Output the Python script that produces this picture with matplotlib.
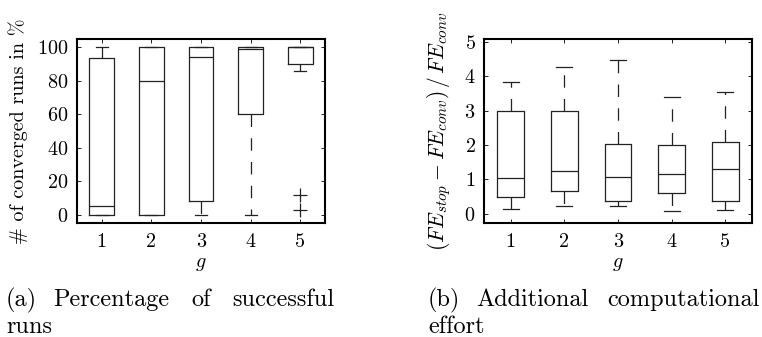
import matplotlib
matplotlib.use("Agg")
import matplotlib.pyplot as plt

plt.rcParams['font.family'] = 'serif'
plt.rcParams['font.serif'] = ['cmr10']
plt.rcParams['mathtext.fontset'] = 'cm'
plt.rcParams['axes.formatter.use_mathtext'] = True

groups = [1, 2, 3, 4, 5]

# Panel (a): percentage of converged runs
a_whislo = [0, 0, 0, 0, 86]
a_q1 = [0, 0, 8, 60, 90]
a_med = [5, 80, 94.5, 99, 100]
a_q3 = [93.5, 100, 100, 100, 100]
a_whishi = [100, 100, 100, 100, 100]
a_fliers = [[], [], [], [], [12, 3]]

# Panel (b): additional computational effort
b_whislo = [0.14, 0.21, 0.21, 0.09, 0.10]
b_q1 = [0.50, 0.65, 0.38, 0.60, 0.38]
b_med = [1.05, 1.23, 1.08, 1.16, 1.29]
b_q3 = [3.00, 3.00, 2.03, 2.01, 2.08]
b_whishi = [3.83, 4.26, 4.48, 3.40, 3.55]

def stats(lo, q1, med, q3, hi, fl=None):
    out = []
    for i in range(len(lo)):
        out.append(dict(whislo=lo[i], q1=q1[i], med=med[i], q3=q3[i],
                        whishi=hi[i], fliers=(fl[i] if fl else [])))
    return out

W, H = 762, 337
fig = plt.figure(figsize=(W/100, H/100), dpi=100)

def px_axes(l, t, r, b):
    return fig.add_axes([l/W, 1 - b/H, (r-l)/W, (b-t)/H])

ax1 = px_axes(77, 39, 325, 223)
ax2 = px_axes(484, 39, 752, 223)

LC = '#222222'
common = dict(positions=groups, widths=0.5, showfliers=True,
              boxprops=dict(color=LC, linewidth=0.9),
              medianprops=dict(color=LC, linewidth=0.9),
              whiskerprops=dict(color=LC, linewidth=0.9, linestyle=(0, (10, 9))),
              capprops=dict(color=LC, linewidth=0.9),
              flierprops=dict(marker='+', markeredgecolor=LC, markersize=10, markeredgewidth=0.9))

ax1.bxp(stats(a_whislo, a_q1, a_med, a_q3, a_whishi, a_fliers), capwidths=0.24, **common)
ax2.bxp(stats(b_whislo, b_q1, b_med, b_q3, b_whishi), capwidths=0.3, **common)

ax1.set_xlim(0.5, 5.5)
ax1.set_ylim(-5, 105)
ax1.set_yticks([0, 20, 40, 60, 80, 100])
ax2.set_xlim(0.5, 5.5)
ax2.set_ylim(-0.27, 5.08)
ax2.set_yticks([0, 1, 2, 3, 4, 5])

FS = 14.5
for ax in (ax1, ax2):
    ax.set_xticks(groups)
    ax.set_xticklabels([str(g) for g in groups])
    ax.tick_params(direction='in', top=True, right=True, length=3, width=0.6,
                   labelsize=FS, pad=7)
    ax.tick_params(axis='y', pad=6)
    for s in ax.spines.values():
        s.set_linewidth(1.5)
    ax.set_xlabel('$g$', fontsize=FS, labelpad=3)

ax1.set_ylabel(r'# of converged runs in %', fontsize=FS, labelpad=7)
ax2.set_ylabel(r'$(FE_{stop}-FE_{conv})\,/\,FE_{conv}$', fontsize=15.5, labelpad=8)

CFS = 17.5
def words(items, y):
    for x, w, ha in items:
        fig.text(x/W, 1 - y/H, w, fontsize=CFS, ha=ha, va='baseline')

words([(6, '(a)', 'left'), (53, 'Percentage', 'left'), (191, 'of', 'left'),
       (334, 'successful', 'right')], 306)
words([(6, 'runs', 'left')], 333)
words([(428, '(b)', 'left'), (476, 'Additional', 'left'),
       (760, 'computational', 'right')], 306)
words([(428, 'effort', 'left')], 333)

fig.savefig('out.png', dpi=100)
